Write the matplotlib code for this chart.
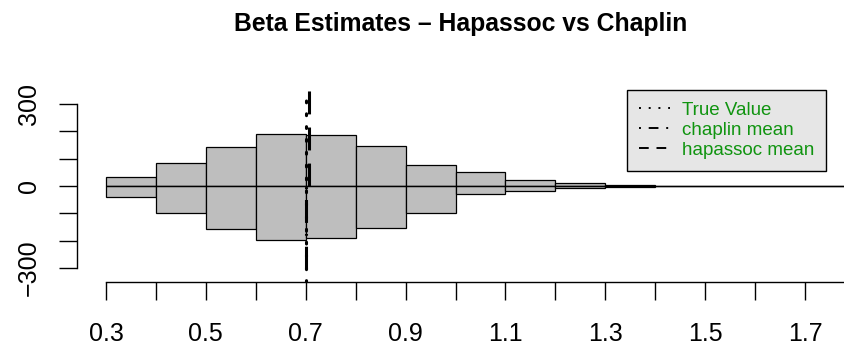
import numpy as np
import matplotlib
matplotlib.use("Agg")
import matplotlib.pyplot as plt
from matplotlib.lines import Line2D

plt.rcParams['font.family'] = ['Liberation Sans', 'DejaVu Sans']

# bin edges of the estimates (0.3 .. 1.8 by 0.1)
bin_edges = [0.3, 0.4, 0.5, 0.6, 0.7, 0.8, 0.9, 1.0, 1.1, 1.2, 1.3, 1.4, 1.5, 1.6, 1.7, 1.8]
# counts drawn upwards (hapassoc) and downwards (chaplin)
hapassoc_counts = [34, 83, 144, 190, 187, 146, 77, 52, 22, 10, 2, 0, 0, 0, 0]
chaplin_counts = [41, 100, 157, 198, 191, 155, 97, 30, 17, 8, 2, 0, 0, 0, 0]

true_value = 0.7
chaplin_mean = 0.700
hapassoc_mean = 0.706

x_ticks = [0.3, 0.4, 0.5, 0.6, 0.7, 0.8, 0.9, 1.0, 1.1, 1.2, 1.3, 1.4, 1.5, 1.6, 1.7]
x_labels = ["0.3", "", "0.5", "", "0.7", "", "0.9", "", "1.1", "", "1.3", "", "1.5", "", "1.7"]
y_ticks = [-300, -200, -100, 0, 100, 200, 300]
y_labels = ["\u2212300", "", "", "0", "", "", "300"]

fig = plt.figure(figsize=(8.45, 3.54), dpi=100)
ax = fig.add_axes([77 / 845, 72 / 354, 768 / 845, 192 / 354])

left = np.array(bin_edges[:-1])
widths = np.diff(bin_edges)
ax.bar(left, hapassoc_counts, width=widths, align='edge', color='#BEBEBE',
       edgecolor='black', linewidth=0.9)
ax.bar(left, -np.array(chaplin_counts), width=widths, align='edge', color='#BEBEBE',
       edgecolor='black', linewidth=0.9)
ax.hlines(0, bin_edges[0], bin_edges[-1], color='black', linewidth=0.9)

ax.set_xlim(0.242, 1.780)
ax.set_ylim(-351, 351)

ax.axvline(true_value, color='black', linewidth=2.2, linestyle=(0, (0.6, 3.6)),
           dash_capstyle='round', zorder=5)
ax.vlines(chaplin_mean, -351, 0, color='black', linewidth=2.2,
          linestyles=[(0, (0.6, 3.6, 7.5, 3.6))], zorder=5)
ax.vlines(hapassoc_mean, 0, 351, color='black', linewidth=2.2,
          linestyles=[(0, (7.5, 4.3))], zorder=5)

ax.spines['top'].set_visible(False)
ax.spines['right'].set_visible(False)
ax.spines['left'].set_bounds(-300, 300)
ax.spines['bottom'].set_bounds(0.3, 1.78)
for s in ('left', 'bottom'):
    ax.spines[s].set_linewidth(1.0)

ax.set_xticks(x_ticks)
ax.set_xticklabels(x_labels)
ax.set_yticks(y_ticks)
ax.set_yticklabels(y_labels, rotation=90, va='center')
ax.tick_params(axis='both', length=13, width=1.0, labelsize=18, direction='out')
ax.tick_params(axis='x', pad=15.5)
ax.tick_params(axis='y', pad=13)

fig.suptitle("Beta Estimates \u2013 Hapassoc vs Chaplin", x=461 / 845, y=1 - 12 / 354,
             va='top', fontsize=17.8, fontweight='bold')

handles = [
    Line2D([], [], color='black', linewidth=1.4, linestyle=(0, (1, 4))),
    Line2D([], [], color='black', linewidth=1.4, linestyle=(0, (1, 4, 5, 4))),
    Line2D([], [], color='black', linewidth=1.4, linestyle=(0, (5, 4))),
]
leg = ax.legend(handles, ["True Value", "chaplin mean", "hapassoc mean"],
                loc='upper right', bbox_to_anchor=(826 / 845, 1 - 90 / 354),
                bbox_transform=fig.transFigure, fontsize=13.5, handlelength=1.65,
                handletextpad=0.65, borderpad=0.62, labelspacing=0.16,
                fancybox=False, framealpha=1, borderaxespad=0,
                labelcolor='#109410')
leg.get_frame().set_facecolor('#E6E6E6')
leg.get_frame().set_edgecolor('black')
leg.get_frame().set_linewidth(1.0)

fig.savefig("out.png", dpi=100)
